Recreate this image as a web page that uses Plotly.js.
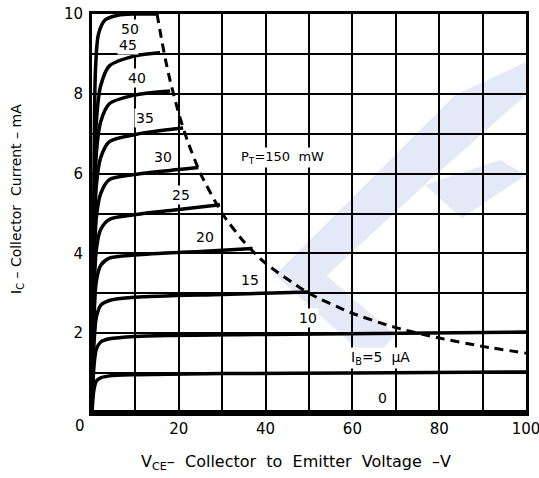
<!DOCTYPE html>
<html>
<head>
<meta charset="utf-8">
<script src="https://cdn.plot.ly/plotly-3.0.1.min.js"></script>
<style>html,body{margin:0;padding:0;background:#fff;}#chart{width:539px;height:478px;}</style>
</head>
<body>
<div id="chart"></div>
<script>
// Collector characteristic curves (VCE in V, IC in mA)
const ib0_x  = [0, 100];
const ib0_y  = [0.03, 0.03];
const ib5_x  = [0, 0.4, 1, 2, 4, 10, 30, 60, 100];
const ib5_y  = [0, 0.55, 0.8, 0.88, 0.93, 0.96, 0.99, 1.0, 1.03];
const ib10_x = [0, 0.4, 1, 2, 4, 10, 40, 100];
const ib10_y = [0, 1.1, 1.6, 1.78, 1.86, 1.92, 1.97, 2.03];
const ib15_x = [0, 0.4, 1, 2, 4, 10, 30, 50];
const ib15_y = [0, 1.6, 2.4, 2.7, 2.82, 2.9, 2.97, 3.03];
const ib20_x = [0, 0.4, 1, 2, 4, 10, 25, 37];
const ib20_y = [0, 2.2, 3.3, 3.7, 3.88, 3.96, 4.05, 4.12];
const ib25_x = [0, 0.4, 1, 2, 4, 10, 20, 29.5];
const ib25_y = [0, 2.7, 4.1, 4.6, 4.85, 4.97, 5.1, 5.22];
const ib30_x = [0, 0.4, 1, 2, 4, 10, 18, 24.5];
const ib30_y = [0, 3.2, 4.9, 5.5, 5.85, 5.98, 6.08, 6.15];
const ib35_x = [0, 0.4, 1, 2, 4, 10, 16, 21];
const ib35_y = [0, 3.7, 5.7, 6.4, 6.8, 6.98, 7.08, 7.14];
const ib40_x = [0, 0.4, 1, 2, 4, 10, 18];
const ib40_y = [0, 4.2, 6.5, 7.3, 7.75, 7.97, 8.07];
const ib45_x = [0, 0.4, 1, 2, 4, 10, 15.7];
const ib45_y = [0, 4.7, 7.3, 8.2, 8.7, 8.95, 9.03];
const ib50_x = [0, 0.4, 0.8, 1.5, 3, 6, 10, 15];
const ib50_y = [0, 5.2, 8.6, 9.5, 9.85, 9.97, 10, 10];

// PT = 150 mW dissipation limit
const pt_x = [15, 16, 17, 18, 20, 22, 25, 30, 35, 40, 50, 60, 70, 80, 90, 100];
const pt_y = [10, 9.38, 8.82, 8.33, 7.5, 6.82, 6, 5, 4.29, 3.75, 3, 2.5, 2.14, 1.88, 1.67, 1.5];

// Curve labels
const lbl_text = ["50", "45", "40", "35", "30", "25", "20", "15", "10",
                  "I<sub>B</sub>=5&nbsp; &#956;A", "0", "P<sub>T</sub>=150&nbsp; mW"];
const lbl_x    = [8.8, 8.3, 10.4, 12.2, 16.4, 20.5, 26, 36.4, 49.8, 66.5, 67, 43.8];
const lbl_y    = [9.62, 9.22, 8.4, 7.39, 6.42, 5.46, 4.41, 3.33, 2.38, 1.38, 0.38, 6.4];
const lbl_size = [14, 14, 14, 14, 14, 14, 14, 14, 14, 14, 14, 13];

// Tick labels
const x_tickvals = [0, 10, 20, 30, 40, 50, 60, 70, 80, 90, 100];
const x_ticktext = ["", "", "20", "", "40", "", "60", "", "80", "", "100"];
const y_tickvals = [0, 1, 2, 3, 4, 5, 6, 7, 8, 9, 10];
const y_ticktext = ["", "", "2", "", "4", "", "6", "", "8", "", "10"];
const x_title = "V<sub>CE</sub>–&nbsp; Collector&nbsp; to&nbsp; Emitter&nbsp; Voltage&nbsp; –V";
const y_title = "I<sub>C</sub> – Collector&nbsp; Current – mA";

const curves = [
  [ib0_x, ib0_y], [ib5_x, ib5_y], [ib10_x, ib10_y], [ib15_x, ib15_y],
  [ib20_x, ib20_y], [ib25_x, ib25_y], [ib30_x, ib30_y], [ib35_x, ib35_y],
  [ib40_x, ib40_y], [ib45_x, ib45_y], [ib50_x, ib50_y]
];

const FONT = "DejaVu Sans, Verdana, sans-serif";

const traces = curves.map(c => ({
  x: c[0], y: c[1], type: "scatter", mode: "lines",
  line: {color: "#000", width: 3.5, shape: "spline", smoothing: 0.8},
  hoverinfo: "skip", showlegend: false
}));
traces.push({
  x: pt_x, y: pt_y, type: "scatter", mode: "lines",
  line: {color: "#000", width: 3, dash: "9px,6px", shape: "spline", smoothing: 0.6},
  hoverinfo: "skip", showlegend: false
});

// watermark (decorative): pixel polygons converted to axis coordinates
const L = 92, R = 526, T = 14, B = 413;
function poly(pts) {
  return pts.map((p, i) => (i ? "L" : "M") + ((p[0] - L) / (R - L) * 100).toFixed(2) + "," + ((B - p[1]) / (B - T) * 10).toFixed(3)).join(" ") + " Z";
}
const wmColor = "rgb(227,233,247)";
const wm = [
  [[275,275],[455,95],[526,62],[526,95],[430,180],[320,282]],
  [[275,275],[318,268],[395,335],[372,362]],
  [[425,185],[500,160],[526,175],[462,218]]
].map(p => ({type: "path", xref: "x", yref: "y", path: poly(p), fillcolor: wmColor, line: {width: 0}, layer: "below"}));

const annotations = lbl_text.map((t, i) => ({
  x: lbl_x[i], y: lbl_y[i], xref: "x", yref: "y", text: t, showarrow: false,
  xanchor: "center", yanchor: "middle",
  font: {family: FONT, size: lbl_size[i], color: "#000"}, bgcolor: "#fff", borderpad: 1
}));
annotations.push({
  x: 0, y: 0, xref: "x", yref: "y", text: "0", showarrow: false,
  xanchor: "center", yanchor: "middle",
  xshift: -12, yshift: -13, font: {family: FONT, size: 15, color: "#000"}
});
annotations.push({
  x: (296 - L) / (R - L), y: (B - 463) / (B - T), xref: "paper", yref: "paper",
  xanchor: "center", yanchor: "middle",
  text: x_title, showarrow: false, font: {family: FONT, size: 16, color: "#000"}
});
annotations.push({
  x: (17 - L) / (R - L), y: (B - 199) / (B - T), xref: "paper", yref: "paper",
  xanchor: "center", yanchor: "middle",
  text: y_title, textangle: -90, showarrow: false, font: {family: FONT, size: 14, color: "#000"}
});

const layout = {
  width: 539, height: 478,
  margin: {l: 92, r: 13, t: 14, b: 65},
  paper_bgcolor: "#fff", plot_bgcolor: "#fff",
  showlegend: false,
  font: {family: FONT, size: 15, color: "#000"},
  xaxis: {
    range: [0, 100], tickmode: "array", tickvals: x_tickvals, ticktext: x_ticktext,
    showgrid: true, gridcolor: "#000", gridwidth: 1.5,
    showline: true, linecolor: "#000", linewidth: 3, mirror: true,
    zeroline: false, ticks: "outside", ticklen: 0, tickcolor: "#000",
    ticklabeloverflow: "allow",
    tickfont: {family: FONT, size: 15, color: "#000"}
  },
  yaxis: {
    range: [0, 10], tickmode: "array", tickvals: y_tickvals, ticktext: y_ticktext,
    showgrid: true, gridcolor: "#000", gridwidth: 1.5,
    showline: true, linecolor: "#000", linewidth: 3, mirror: true,
    zeroline: false, ticks: "outside", ticklen: 3, tickcolor: "#fff",
    ticklabeloverflow: "allow",
    tickfont: {family: FONT, size: 15, color: "#000"}
  },
  shapes: wm,
  annotations: annotations
};

Plotly.newPlot("chart", traces, layout, {displayModeBar: false});
</script>
</body>
</html>
